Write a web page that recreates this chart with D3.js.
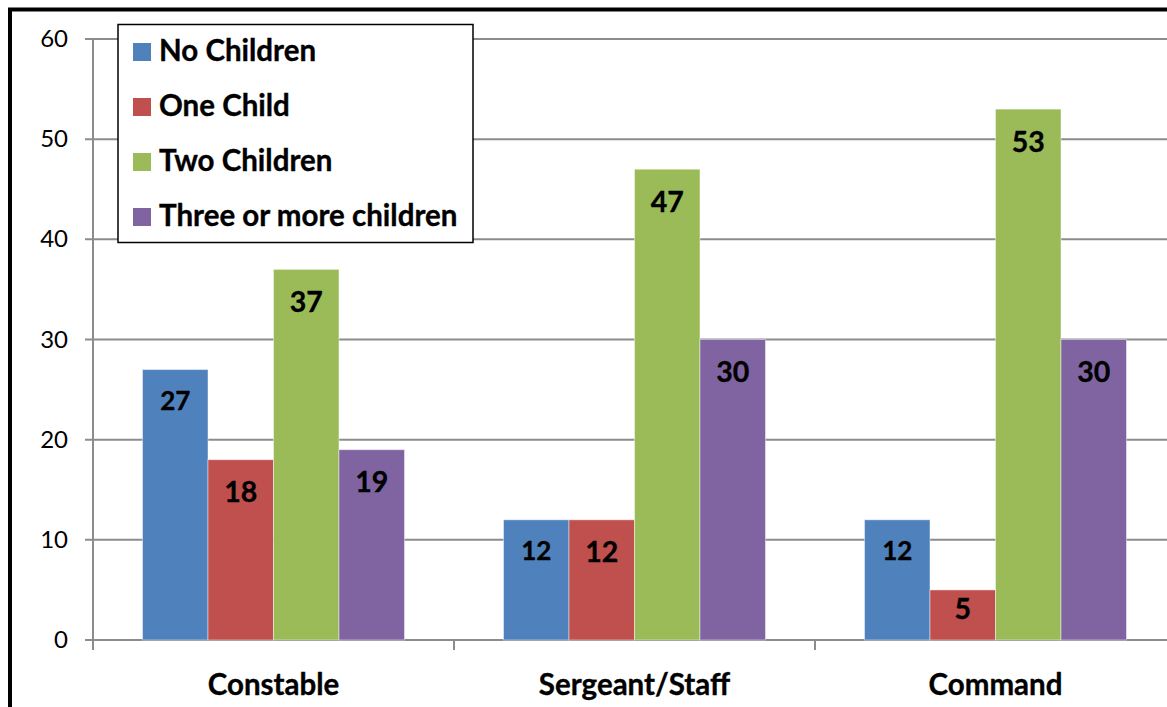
<!DOCTYPE html>
<html>
<head>
<meta charset="utf-8">
<script src="https://cdn.jsdelivr.net/npm/d3@7"></script>
<style>
  html, body { margin: 0; padding: 0; background: #fff; }
  svg { display: block; }
  text { font-family: Lato, "Open Sans", sans-serif; fill: #000; }
  text.b { font-weight: bold; stroke: #000; stroke-width: 0.35px; }
</style>
</head>
<body>
<svg id="chart" width="1167" height="707"></svg>
<script>
// ---- Data ----
const categories = ["Constable", "Sergeant/Staff", "Command"];
const seriesNames = ["No Children", "One Child", "Two Children", "Three or more children"];
const noChildren = [27, 12, 12];
const oneChild = [18, 12, 5];
const twoChildren = [37, 47, 53];
const threePlus = [19, 30, 30];
const yTicks = [0, 10, 20, 30, 40, 50, 60];

// ---- Styles ----
const colors = ["#4F81BD", "#C0504D", "#9BBB59", "#8064A2"];
const labelFont = [26, 28.5, 28.5, 28.5];

const seriesValues = [noChildren, oneChild, twoChildren, threePlus];

const svg = d3.select("#chart");

// outer frame
svg.append("rect")
  .attr("x", 10).attr("y", 9.5)
  .attr("width", 1200).attr("height", 800)
  .attr("fill", "none").attr("stroke", "#000").attr("stroke-width", 4);

const plotLeft = 93, plotBottom = 640, plotTop = 39;
const bandW = 361;

const y = d3.scaleLinear().domain([0, 60]).range([plotBottom, plotTop]);
const x = d3.scaleBand().domain(categories)
  .range([plotLeft, plotLeft + bandW * categories.length]).padding(0);
const xs = d3.scaleBand().domain(seriesNames).range([49.5, bandW - 49.5]).padding(0);

// gridlines
svg.append("g").selectAll("line").data(yTicks).join("line")
  .attr("x1", 85).attr("x2", 1167)
  .attr("y1", d => y(d)).attr("y2", d => y(d))
  .attr("stroke", "#8c8c8c").attr("stroke-width", 2);

// y axis line
svg.append("line")
  .attr("x1", plotLeft).attr("x2", plotLeft)
  .attr("y1", plotTop).attr("y2", plotBottom + 10)
  .attr("stroke", "#8c8c8c").attr("stroke-width", 2);

// category ticks
svg.append("g").selectAll("line").data(categories).join("line")
  .attr("x1", d => x(d)).attr("x2", d => x(d))
  .attr("y1", plotBottom).attr("y2", plotBottom + 10)
  .attr("stroke", "#8c8c8c").attr("stroke-width", 2);

// y tick labels
svg.append("g").selectAll("text").data(yTicks).join("text")
  .attr("x", 68).attr("y", d => y(d) + 8)
  .attr("text-anchor", "end")
  .attr("font-size", 24)
  .text(d => d);

// bars
const barData = [];
seriesNames.forEach((s, si) => {
  categories.forEach((c, ci) => {
    barData.push({ s, si, c, v: seriesValues[si][ci] });
  });
});

const g = svg.append("g");
g.selectAll("rect").data(barData).join("rect")
  .attr("x", d => x(d.c) + xs(d.s))
  .attr("y", d => y(d.v))
  .attr("width", xs.bandwidth())
  .attr("height", d => y(0) - y(d.v))
  .attr("fill", d => colors[d.si])
  .attr("stroke", "rgba(255,255,255,0.45)")
  .attr("stroke-width", 1);

// value labels
g.selectAll("text").data(barData).join("text")
  .attr("class", "b")
  .attr("x", d => x(d.c) + xs(d.s) + xs.bandwidth() / 2)
  .attr("y", d => Math.min(y(d.v) + (d.si === 0 ? 40.5 : 42.5), y(0) - 21))
  .attr("text-anchor", "middle")
  .attr("font-size", d => labelFont[d.si])
  .text(d => d.v);

// category labels
svg.append("g").selectAll("text").data(categories).join("text")
  .attr("class", "b")
  .attr("x", d => x(d) + bandW / 2)
  .attr("y", 695)
  .attr("text-anchor", "middle")
  .attr("font-size", 29.5)
  .text(d => d);

// legend
const lg = svg.append("g");
lg.append("rect")
  .attr("x", 118).attr("y", 24.5)
  .attr("width", 355).attr("height", 218)
  .attr("fill", "#fff").attr("stroke", "#000").attr("stroke-width", 1.5);
const items = lg.selectAll("g").data(seriesNames).join("g")
  .attr("transform", (d, i) => `translate(133, ${43 + i * 55})`);
items.append("rect")
  .attr("width", 18).attr("height", 18)
  .attr("fill", (d, i) => colors[i]);
items.append("text")
  .attr("class", "b")
  .attr("x", 26).attr("y", 18)
  .attr("font-size", 29.5)
  .text(d => d);
</script>
</body>
</html>
